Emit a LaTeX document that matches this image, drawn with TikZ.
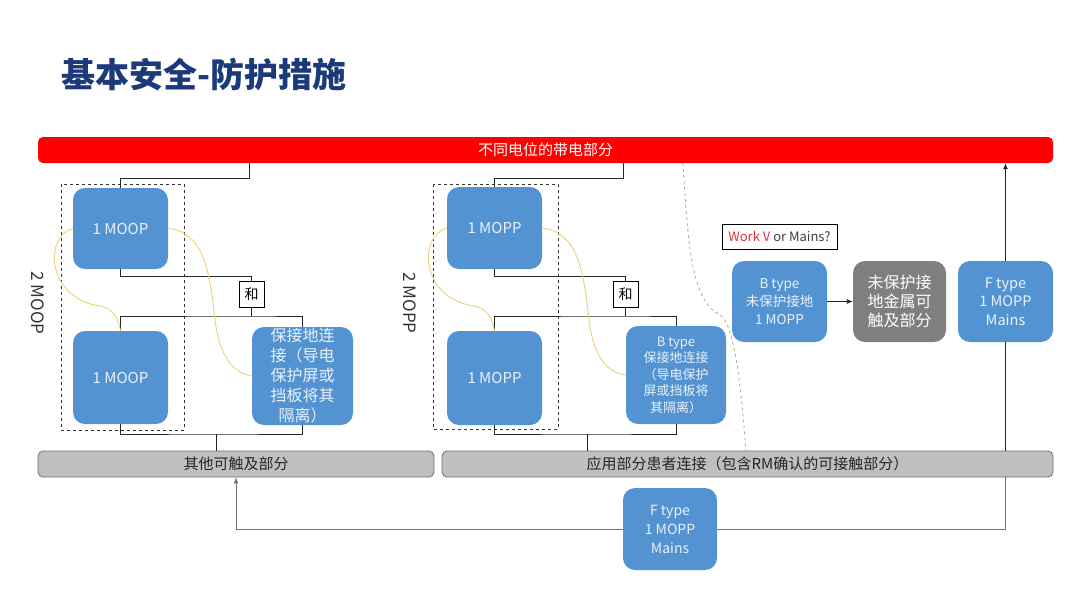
\documentclass[tikz,border=0pt]{standalone}
\usepackage{fontspec}
\setmainfont{Noto Sans CJK SC}
\usepackage{xcolor}
\usetikzlibrary{calc,arrows.meta}
\definecolor{boxblue}{HTML}{5393D1}
\definecolor{boxtext}{HTML}{EAF1FA}
\definecolor{barred}{HTML}{FF0000}
\definecolor{bargray}{HTML}{BFBFBF}
\definecolor{barline}{HTML}{62757B}
\definecolor{metalgray}{HTML}{7F7F7F}
\definecolor{titleblue}{HTML}{1C3A7A}
\definecolor{wirey}{HTML}{E9D47A}
\definecolor{splitline}{HTML}{C2AD78}
\definecolor{workred}{HTML}{E0323C}

\begin{document}
\begin{tikzpicture}[x=1pt,y=-1pt,>={Latex[length=6pt,width=5pt]}]
    \tikzstyle{mop}=[fill=boxblue,rounded corners=12pt,text=boxtext,align=center,inner sep=0,minimum width=95pt]
    \tikzstyle{part}=[draw=barline,fill=bargray,rounded corners=5pt,line width=0.8pt,inner sep=0,minimum height=26pt,text=black!85]
    \tikzstyle{andbox}=[draw,fill=white,inner sep=0,minimum width=25pt,minimum height=26pt,font=\fontsize{14}{16}\selectfont]
    \tikzstyle{wire}=[line width=0.9pt,black!85]
    \tikzstyle{path}=[wire,black!55]
    \tikzstyle{yel}=[wirey,line width=0.9pt]
    \tikzstyle{grp}=[dashed,line width=0.7pt,black!80]
    \useasboundingbox (0,0) rectangle (1080,608);
    \fill[white] (0,0) rectangle (1080,608);
    \node[anchor=west,text=titleblue,font=\fontsize{34}{40}\bfseries\selectfont] (title) at (58,75) {基本安全-防护措施};
    \node[fill=barred,rounded corners=5pt,inner sep=0,minimum width=1015pt,minimum height=26pt,text=white,font=\fontsize{15}{18}\selectfont] (bar) at (545.5,150) {不同电位的带电部分};
    \node[part,minimum width=396pt,font=\fontsize{15}{18}\selectfont] (other) at (236,464) {其他可触及部分};
    \node[part,minimum width=611pt,font=\fontsize{15}{18}\selectfont] (apc) at (747.5,464) {应用部分患者连接（包含RM确认的可接触部分）};
    \draw[grp] (61,184) rectangle (184,430);
    \node[mop,minimum height=81pt,font=\fontsize{15}{18}\selectfont] (t1) at (120.5,228.5) {1 MOOP};
    \node[mop,minimum height=93pt,font=\fontsize{15}{18}\selectfont] (b1) at (120.5,377.5) {1 MOOP};
    \node[andbox] (h1) at (251.5,294) {和};
    \node[mop,minimum width=101pt,minimum height=98pt,font=\fontsize{16}{20}\selectfont] (g1) at (302.5,376) {保接地连\\接（导电\\保护屏或\\挡板将其\\隔离）};
    \node[rotate=-90,text=black!80,font=\fontsize{17}{20}\selectfont] (n1lab) at (38,303) {2 MOOP};
    \draw[grp] (433,184) rectangle (558,429);
    \node[mop,minimum height=82pt,font=\fontsize{15}{18}\selectfont] (t2) at (494.5,228) {1 MOPP};
    \node[mop,minimum height=94pt,font=\fontsize{15}{18}\selectfont] (b2) at (494.5,378) {1 MOPP};
    \node[andbox] (h2) at (625.5,294) {和};
    \node[mop,minimum width=100pt,minimum height=98pt,font=\fontsize{13}{16.5}\selectfont] (g2) at (676,375) {B type\\保接地连接\\（导电保护\\屏或挡板将\\其隔离）};
    \node[rotate=-90,text=black!80,font=\fontsize{17}{20}\selectfont] (n2lab) at (410,303) {2 MOPP};
    \node[draw,fill=white,inner sep=0,minimum width=115pt,minimum height=25pt,font=\fontsize{13}{15}\selectfont,text=black!75] (work) at (779.5,236.5) {\textcolor{workred}{Work V} or Mains?};
    \node[mop,minimum height=81pt,font=\fontsize{13.5}{18}\selectfont] (bt) at (779.5,301.5) {B type\\未保护接地\\1 MOPP};
    \node[mop,fill=metalgray,text=white,minimum width=93pt,minimum height=81pt,font=\fontsize{16}{19}\selectfont] (gm) at (899.5,301.5) {未保护接\\地金属可\\触及部分};
    \node[mop,minimum height=81pt,font=\fontsize{14.5}{18.5}\selectfont] (ft) at (1005.5,301.5) {F type\\1 MOPP\\Mains};
    \coordinate (j1) at (249,178);
    \coordinate (m1) at (251.5,316);
    \coordinate (k1) at (216,434);
    \draw[wire] (bar.south -| j1) -- (j1) -| (t1.north);
    \draw[wire] (t1.south) -- ++(0,7) -| (h1.north);
    \draw[wire] (h1.south) -- (m1);
    \draw[wire] (b1.north) |- (m1) -| (g1.north);
    \draw[wire] (b1.south) |- (k1) -| (g1.south);
    \draw[wire] (k1) -- (k1 |- other.north);
    \draw[yel] (t1.west) .. controls (44,236) and (46,298) .. (100,306) .. controls (114,309) and (118,318) .. (b1.north);
    \draw[yel] (t1.east) .. controls (205,232) and (210,275) .. (215,320) .. controls (220,360) and (235,373) .. (g1.west);
    \coordinate (j2) at (623,178);
    \coordinate (m2) at (625.5,316);
    \coordinate (k2) at (587,434);
    \draw[wire] (bar.south -| j2) -- (j2) -| (t2.north);
    \draw[wire] (t2.south) -- ++(0,7) -| (h2.north);
    \draw[wire] (h2.south) -- (m2);
    \draw[wire] (b2.north) |- (m2) -| (g2.north);
    \draw[wire] (b2.south) |- (k2) -| (g2.south);
    \draw[wire] (k2) -- (k2 |- apc.north);
    \draw[yel] (t2.west) .. controls (418,236) and (420,298) .. (474,306) .. controls (488,309) and (492,318) .. (b2.north);
    \draw[yel] (t2.east) .. controls (579,232) and (584,275) .. (589,320) .. controls (594,360) and (609,373) .. (g2.west);
    \draw[splitline,dashed,line width=0.8pt] (683,163) .. controls (688,240) and (690,300) .. (720,315) .. controls (736,325) and (742,400) .. (746,451);
    \draw[wire,->] (bt) -- (gm);
    \draw[wire,->] (ft.north) -- (ft.north |- bar.south);
    \draw[wire] (ft.south) -- (ft.south |- apc.north);
    \node[mop,minimum width=94pt,minimum height=82pt,font=\fontsize{14}{19}\selectfont] (fb) at (670,529) {F type\\1 MOPP\\Mains};
    \draw[path] (ft.south |- apc.south) |- (fb.east);
    \draw[path,->] (fb.west) -| (other.south);
\end{tikzpicture}
\end{document}
